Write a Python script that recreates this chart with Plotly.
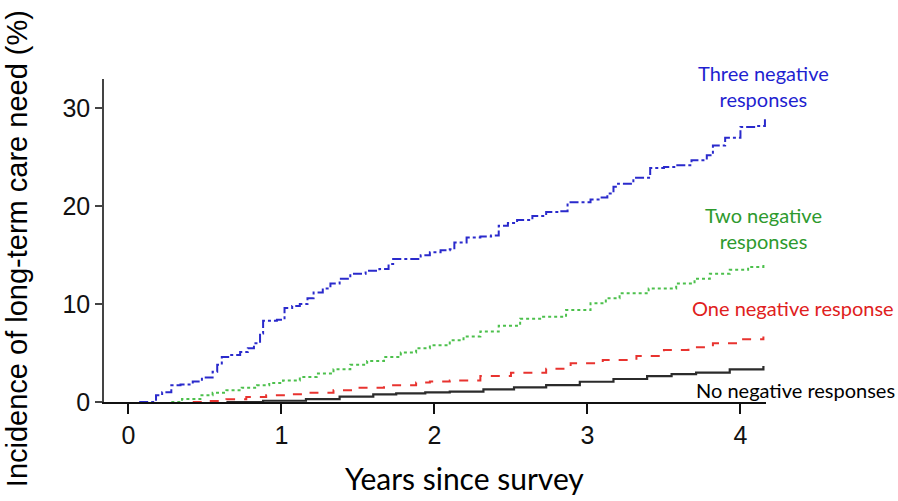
import plotly.graph_objects as go

# Data (years since survey, cumulative incidence %)
three_x = [0.07, 0.16, 0.18, 0.22, 0.28, 0.34, 0.42, 0.48, 0.55, 0.58,
           0.61, 0.66, 0.73, 0.78, 0.82, 0.86, 0.88, 0.97, 1.02, 1.07,
           1.12, 1.17, 1.21, 1.27, 1.32, 1.38, 1.45, 1.55, 1.64, 1.70,
           1.73, 1.86, 1.91, 1.97, 2.04, 2.10, 2.13, 2.21, 2.30, 2.37,
           2.42, 2.48, 2.54, 2.64, 2.73, 2.81, 2.87, 3.02, 3.08, 3.13,
           3.17, 3.20, 3.30, 3.41, 3.50, 3.58, 3.68, 3.78, 3.82, 3.90,
           4.00, 4.10, 4.16]
three_y = [0, 0, 0.7, 1.0, 1.7, 1.8, 2.1, 2.5, 3.1, 3.8,
           4.6, 4.8, 5.1, 5.5, 6.0, 7.0, 8.3, 8.4, 9.6, 9.8,
           10.0, 10.6, 11.2, 11.6, 12.1, 12.6, 13.1, 13.4, 13.6, 14.1,
           14.6, 14.6, 15.0, 15.3, 15.5, 15.6, 16.3, 16.8, 16.9, 17.0,
           18.0, 18.3, 18.6, 19.0, 19.4, 19.5, 20.4, 20.7, 20.9, 21.3,
           22.0, 22.3, 22.9, 23.9, 24.0, 24.2, 24.7, 25.2, 26.2, 27.0,
           28.1, 28.2, 28.9]

two_x = [0.28, 0.35, 0.47, 0.55, 0.64, 0.74, 0.84, 0.92, 1.01, 1.12,
         1.23, 1.34, 1.45, 1.56, 1.67, 1.78, 1.88, 1.97, 2.10, 2.19,
         2.30, 2.42, 2.56, 2.71, 2.86, 3.02, 3.12, 3.21, 3.40, 3.58,
         3.70, 3.80, 3.93, 4.05, 4.15]
two_y = [0, 0.3, 0.7, 0.95, 1.2, 1.45, 1.7, 1.95, 2.2, 2.55,
         2.9, 3.35, 3.8, 4.2, 4.6, 5.05, 5.5, 5.8, 6.3, 6.7,
         7.2, 7.8, 8.5, 8.7, 9.4, 10.1, 10.6, 11.1, 11.6, 12.1,
         12.6, 13.1, 13.5, 13.8, 14.2]

one_x = [0.42, 0.52, 0.64, 0.77, 0.90, 1.05, 1.19, 1.34, 1.50, 1.67,
         1.88, 1.97, 2.10, 2.30, 2.50, 2.73, 2.89, 3.10, 3.32, 3.50,
         3.66, 3.82, 4.00, 4.15]
one_y = [0, 0.1, 0.27, 0.5, 0.7, 0.8, 0.95, 1.2, 1.45, 1.7,
         2.0, 2.1, 2.2, 2.65, 3.0, 3.4, 3.95, 4.3, 4.7, 5.3,
         5.6, 6.0, 6.4, 6.7]

none_x = [0.64, 0.88, 1.16, 1.38, 1.60, 1.75, 1.94, 2.10, 2.32, 2.52,
          2.73, 2.95, 3.17, 3.39, 3.55, 3.71, 3.93, 4.15]
none_y = [0, 0.13, 0.3, 0.55, 0.78, 0.88, 0.99, 1.05, 1.3, 1.5,
          1.73, 2.07, 2.35, 2.65, 2.85, 3.0, 3.33, 3.67]

x_ticks = [0, 1, 2, 3, 4]
y_ticks = [0, 10, 20, 30]

fig = go.Figure()
fig.add_trace(go.Scatter(x=none_x, y=none_y, mode="lines", line_shape="hv",
                         line=dict(color="#2b2b2b", width=2.2)))
fig.add_trace(go.Scatter(x=one_x, y=one_y, mode="lines", line_shape="hv",
                         line=dict(color="#e8332f", width=2, dash="dash")))
fig.add_trace(go.Scatter(x=two_x, y=two_y, mode="lines", line_shape="hv",
                         line=dict(color="#4cc04c", width=2, dash="dot")))
fig.add_trace(go.Scatter(x=three_x, y=three_y, mode="lines", line_shape="hv",
                         line=dict(color="#2a2acc", width=2, dash="dashdot")))

lab_font = "Lato, 'Open Sans', sans-serif"
annotations = [
    dict(x=0.9955, y=0.978, text="Three negative<br>responses", font=dict(color="#1f1fd0", size=20, family=lab_font)),
    dict(x=0.9955, y=0.539, text="Two negative<br>responses", font=dict(color="#2e9a2e", size=20, family=lab_font)),
    dict(x=1.041, y=0.291, text="One negative response", font=dict(color="#e02020", size=20, family=lab_font)),
    dict(x=1.044, y=0.037, text="No negative responses", font=dict(color="#000000", size=20, family=lab_font)),
    dict(x=0.545, y=-0.235, text="Years since survey", font=dict(color="#000000", size=30, family=lab_font)),
    dict(x=-0.131, y=0.474, text="Incidence of long-term care need (%)", textangle=-90,
         font=dict(color="#000000", size=29, family="'Liberation Sans', Arial, sans-serif")),
]
for a in annotations:
    a.update(xref="paper", yref="paper", showarrow=False, xanchor="center", yanchor="middle")
fig.update_layout(annotations=annotations)

fig.update_layout(
    width=898, height=501,
    margin=dict(l=104, r=132, t=79, b=99),
    paper_bgcolor="white", plot_bgcolor="white",
    showlegend=False,
    font=dict(family="'Liberation Sans', Arial, sans-serif", color="#111"),
)
fig.update_xaxes(
    range=[-0.16, 4.167], tickvals=x_ticks, ticks="outside", ticklen=10, tickwidth=2,
    tickcolor="#111", showline=True, linecolor="#111", linewidth=2,
    showgrid=False, zeroline=False, tickfont=dict(size=25), automargin=False,
)
fig.update_yaxes(
    range=[0, 33], tickvals=y_ticks, ticks="outside", ticklen=7, tickwidth=1.5,
    tickcolor="#444", showline=True, linecolor="#444", linewidth=1.5,
    showgrid=False, zeroline=False, tickfont=dict(size=25), automargin=False,
)

fig.write_html("out.html", config={"displayModeBar": False},
               post_script="document.body.style.margin='0px';document.body.style.padding='0px';")
